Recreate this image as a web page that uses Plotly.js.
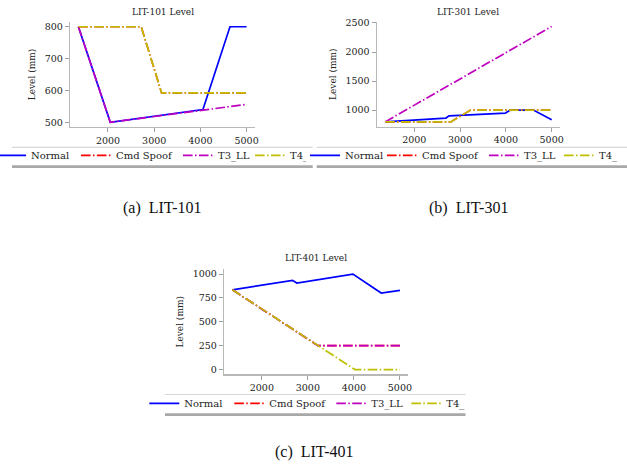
<!DOCTYPE html>
<html>
<head>
<meta charset="utf-8">
<script src="https://cdn.plot.ly/plotly-3.0.1.min.js"></script>
<style>html,body{margin:0;padding:0;background:#fff;}</style>
</head>
<body>
<div id="chart" style="width:627px;height:464px;"></div>
<script>
// ---------- data ----------
const seriesNames = ["Normal", "Cmd Spoof", "T3_LL", "T4_"];
const panelTitles = ["LIT-101 Level", "LIT-301 Level", "LIT-401 Level"];
const captions = ["(a)\u00a0\u00a0LIT-101", "(b)\u00a0\u00a0LIT-301", "(c)\u00a0\u00a0LIT-401"];
const xTicks = [2000, 3000, 4000, 5000];
const yTicks101 = [500, 600, 700, 800];
const yTicks301 = [1000, 1500, 2000, 2500];
const yTicks401 = [0, 250, 500, 750, 1000];

// LIT-101
const x101Normal = [1360, 2050, 4055, 4640, 5000];
const y101Normal = [800, 500, 540, 800, 800];
const x101Spoof = [1360, 2720, 3160, 5000];
const y101Spoof = [800, 800, 592, 592];
const x101T3 = [1360, 2050, 5000];
const y101T3 = [800, 500, 556];
const x101T4 = [1360, 2720, 3160, 5000];
const y101T4 = [800, 800, 592, 592];

// LIT-301
const x301Normal = [1360, 2690, 2760, 3990, 4100, 4600, 5000];
const y301Normal = [795, 862, 900, 948, 1000, 1000, 833];
const x301Spoof = [1360, 2795, 3230, 5000];
const y301Spoof = [795, 795, 1000, 1000];
const x301T3 = [1360, 5000];
const y301T3 = [795, 2440];
const x301T4 = [1360, 2795, 3230, 5000];
const y301T4 = [795, 795, 1000, 1000];

// LIT-401
const x401Normal = [1360, 2667, 2760, 3978, 4594, 5000];
const y401Normal = [835, 934, 906, 1000, 801, 830];
const x401Spoof = [1360, 3220, 5000];
const y401Spoof = [835, 250, 250];
const x401T3 = [1360, 3220, 5000];
const y401T3 = [835, 250, 250];
const x401T4 = [1360, 4022, 5000];
const y401T4 = [835, 0, 0];

// ---------- styles ----------
const W = 627, H = 464;
const px = v => v / W;
const py = v => 1 - v / H;
const FONT = "'DejaVu Serif', serif";
const CAPFONT = "'Liberation Serif', 'Times New Roman', serif";
const colors = ["#0000ff", "#ff0000", "#bf00bf", "#bfbf00"];
const DASHDOT = "9.6px,2.4px,1.5px,2.4px";
const dashes = ["solid", DASHDOT, DASHDOT, DASHDOT];
// legend entry widths per panel
const legendWidthsA = [40, 57, 27, 11];
const legendWidthsB = [32, 57, 30, 24];
const legendWidthsC = [40, 57, 30, 24];

const panels = [
  {xs: [x101Normal, x101Spoof, x101T3, x101T4], ys: [y101Normal, y101Spoof, y101T3, y101T4], xa: "x", ya: "y", lg: "legend", lw: legendWidthsA},
  {xs: [x301Normal, x301Spoof, x301T3, x301T4], ys: [y301Normal, y301Spoof, y301T3, y301T4], xa: "x2", ya: "y2", lg: "legend2", lw: legendWidthsB},
  {xs: [x401Normal, x401Spoof, x401T3, x401T4], ys: [y401Normal, y401Spoof, y401T3, y401T4], xa: "x3", ya: "y3", lg: "legend3", lw: legendWidthsC}
];

const traces = [];
panels.forEach(p => {
  seriesNames.forEach((name, i) => {
    traces.push({
      type: "scatter", mode: "lines",
      x: p.xs[i], y: p.ys[i], name: name,
      xaxis: p.xa, yaxis: p.ya, legend: p.lg,
      legendwidth: p.lw[i],
      line: {color: colors[i], width: 1.7, dash: dashes[i]},
      hoverinfo: "skip"
    });
  });
});

function xAxis(domain, anchor) {
  return {
    domain: domain, anchor: anchor, range: [1178, 5182],
    tickvals: xTicks, ticktext: xTicks.map(String),
    showline: true, linecolor: "#b8b8b8", linewidth: 1.2,
    ticks: "outside", ticklen: 4, tickwidth: 1, tickcolor: "#a0a0a0",
    showgrid: false, zeroline: false, mirror: false,
    tickfont: {family: FONT, size: 9.5, color: "#222"}, fixedrange: true
  };
}
function yAxis(domain, anchor, range, ticks) {
  return {
    domain: domain, anchor: anchor, range: range,
    tickvals: ticks, ticktext: ticks.map(String),
    showline: true, linecolor: "#b8b8b8", linewidth: 1.2,
    ticks: "outside", ticklen: 4, tickwidth: 1, tickcolor: "#a0a0a0",
    showgrid: false, zeroline: false, mirror: false,
    tickfont: {family: FONT, size: 9.5, color: "#222"}, fixedrange: true,
    title: {text: "Level (mm)", font: {family: FONT, size: 9, color: "#222"}, standoff: 7}
  };
}
function legendAt(xPix, yPix) {
  return {
    orientation: "h", x: px(xPix), xanchor: "left", y: py(yPix), yanchor: "middle",
    bgcolor: "rgba(0,0,0,0)", borderwidth: 0,
    font: {family: FONT, size: 10, color: "#222"}, itemclick: false, itemdoubleclick: false
  };
}
function frame(x0, x1, yTop, yBot) {
  return [
    {type: "line", xref: "paper", yref: "paper", x0: px(x0), x1: px(x1), y0: py(yTop), y1: py(yTop),
     line: {color: "#d6d6d6", width: 1.2}},
    {type: "rect", xref: "paper", yref: "paper", x0: px(x0), x1: px(x1), y0: py(yBot - 2.8), y1: py(yBot),
     line: {width: 0}, fillcolor: "#a9a9a9"}
  ];
}
function title(text, xc, yc) {
  return {text: text, xref: "paper", yref: "paper", x: px(xc), y: py(yc), xanchor: "center", yanchor: "middle",
          showarrow: false, font: {family: FONT, size: 9, color: "#222"}};
}
function caption(text, xc, yc) {
  return {text: text, xref: "paper", yref: "paper", x: px(xc), y: py(yc), xanchor: "center", yanchor: "middle",
          showarrow: false, font: {family: CAPFONT, size: 16, color: "#111"}};
}

const layout = {
  width: W, height: H, margin: {l: 0, r: 0, t: 0, b: 0, autoexpand: false},
  paper_bgcolor: "#fff", plot_bgcolor: "#fff",
  font: {family: FONT, size: 10, color: "#222"},
  showlegend: true, hovermode: false,
  xaxis: xAxis([px(70), px(255)], "y"),
  yaxis: yAxis([py(127), py(22)], "x", [485, 815], yTicks101),
  xaxis2: xAxis([px(376.7), px(560)], "y2"),
  yaxis2: yAxis([py(126.7), py(21.7)], "x2", [713, 2522], yTicks301),
  xaxis3: xAxis([px(224), px(408.3)], "y3"),
  yaxis3: yAxis([py(374.3), py(269.3)], "x3", [-50, 1050], yTicks401),
  legend: legendAt(-9, 155.3),
  legend2: legendAt(305, 155.3),
  legend3: legendAt(144.3, 403.3),
  shapes: [].concat(frame(12, 312.7, 147.3, 168), frame(316.7, 627, 147.3, 168), frame(165, 465.5, 394.5, 416)),
  annotations: [
    title(panelTitles[0], 162.5, 11.7),
    title(panelTitles[1], 468.3, 11.7),
    title(panelTitles[2], 316, 258.3),
    caption(captions[0], 162.5, 208),
    caption(captions[1], 468.5, 208),
    caption(captions[2], 314.5, 452)
  ]
};

Plotly.newPlot("chart", traces, layout, {staticPlot: true, displayModeBar: false});
</script>
</body>
</html>
